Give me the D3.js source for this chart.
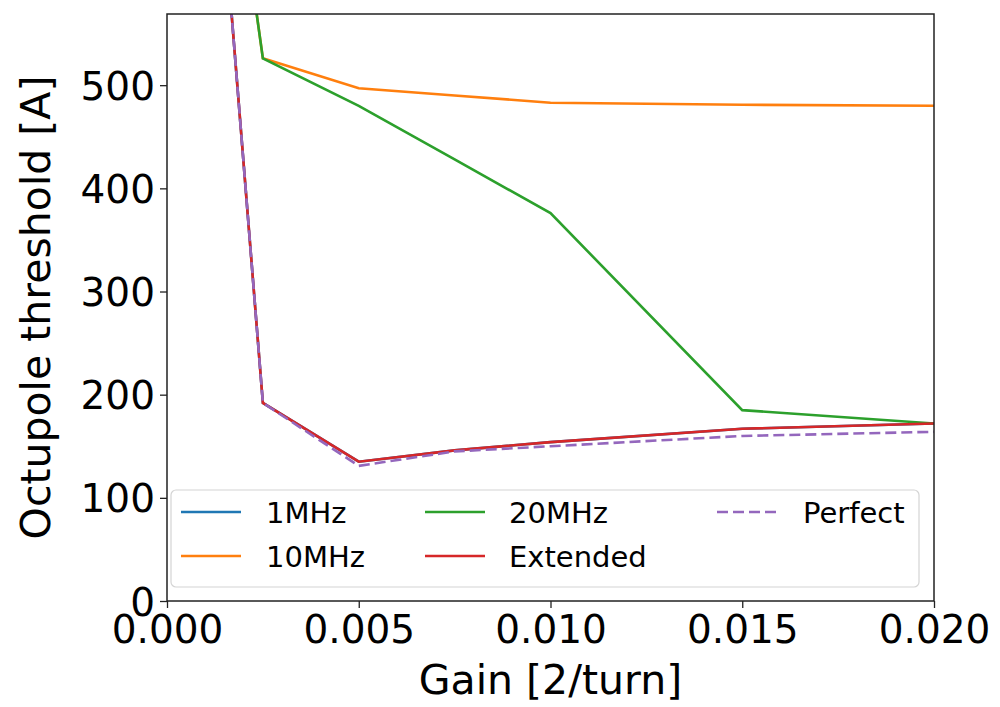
<!DOCTYPE html>
<html>
<head>
<meta charset="utf-8">
<script src="https://cdn.jsdelivr.net/npm/d3@7"></script>
<style>
  body { margin: 0; background: #fff; }
  text { font-family: "DejaVu Sans", sans-serif; }
</style>
</head>
<body>
<div id="chart"></div>
<script>
// data
var gains = [0.001, 0.0025, 0.005, 0.0075, 0.01, 0.015, 0.02];
var mhz1 = [885, 192, 135, 146, 154, 167, 172];
var mhz10 = [925, 526, 497, 490, 483, 481, 480];
var mhz20 = [925, 526, 480, 428, 376, 185, 172];
var extended = [885, 192, 135, 146, 154, 167, 172];
var perfect = [885, 192, 131, 145, 150, 160, 164];

var seriesNames = ["1MHz", "10MHz", "20MHz", "Extended", "Perfect"];
var seriesColors = ["#1f77b4", "#ff7f0e", "#2ca02c", "#d62728", "#9467bd"];
var seriesValues = [mhz1, mhz10, mhz20, extended, perfect];
var seriesDash = [null, null, null, null, "11,5"];

var xTicks = [0, 0.005, 0.01, 0.015, 0.02];
var yTicks = [0, 100, 200, 300, 400, 500];

var draw_chart = function() {

    // set up the svg
    var w = 1000, h = 707;
    var pLeft = 167, pRight = 934, pTop = 14, pBottom = 601;

    var svg = d3.select("#chart")
        .append("svg")
        .attr("width", w)
        .attr("height", h);

    var x = d3.scaleLinear().domain([0, 0.02]).range([pLeft, pRight]);
    var y = d3.scaleLinear().domain([0, 569]).range([pBottom, pTop]);

    svg.append("clipPath")
        .attr("id", "plotclip")
        .append("rect")
        .attr("x", pLeft)
        .attr("y", pTop)
        .attr("width", pRight - pLeft)
        .attr("height", pBottom - pTop);

    // lines
    var line = d3.line()
        .x(function(d) { return x(d[0]); })
        .y(function(d) { return y(d[1]); });

    var plot = svg.append("g").attr("clip-path", "url(#plotclip)");
    for ( var i = 0; i < seriesValues.length; i++ ) {
        var vals = seriesValues[i];
        var pts = gains.map(function(g, j) { return [g, vals[j]]; });
        plot.append("path")
            .datum(pts)
            .attr("d", line)
            .attr("fill", "none")
            .attr("stroke", seriesColors[i])
            .attr("stroke-width", 2.6)
            .attr("stroke-dasharray", seriesDash[i]);
    }

    // axes
    var xAxis = svg.append("g")
        .attr("transform", "translate(0," + pBottom + ")")
        .call(d3.axisBottom(x).tickValues(xTicks).tickFormat(d3.format(".3f")).tickSizeOuter(0).tickSize(7).tickPadding(4));
    var yAxis = svg.append("g")
        .attr("transform", "translate(" + pLeft + ",0)")
        .call(d3.axisLeft(y).tickValues(yTicks).tickSizeOuter(0).tickSize(7).tickPadding(5));

    [xAxis, yAxis].forEach(function(a) {
        a.select(".domain").remove();
        a.selectAll(".tick line").attr("stroke", "#222").attr("stroke-width", 1.3);
        a.selectAll(".tick text").attr("fill", "#000").attr("font-size", "39px")
            .attr("font-family", "DejaVu Sans");
    });
    xAxis.selectAll(".tick text").attr("dy", "0.8em");
    yAxis.selectAll(".tick text").attr("dy", "0.36em");

    // frame
    svg.append("rect")
        .attr("x", pLeft)
        .attr("y", pTop)
        .attr("width", pRight - pLeft)
        .attr("height", pBottom - pTop)
        .attr("fill", "none")
        .attr("stroke", "#222")
        .attr("stroke-width", 1.5);

    // axis labels
    svg.append("text")
        .attr("x", (pLeft + pRight) / 2)
        .attr("y", 694)
        .attr("text-anchor", "middle")
        .attr("font-size", "41px")
        .text("Gain [2/turn]");

    svg.append("text")
        .attr("transform", "translate(50," + ((pTop + pBottom) / 2) + ") rotate(-90)")
        .attr("text-anchor", "middle")
        .attr("font-size", "41px")
        .text("Octupole threshold [A]");

    // legend
    var leg = svg.append("g");
    leg.append("rect")
        .attr("x", 171)
        .attr("y", 490)
        .attr("width", 748)
        .attr("height", 97)
        .attr("rx", 5)
        .attr("fill", "#fff")
        .attr("fill-opacity", 0.8)
        .attr("stroke", "#d4d4d4")
        .attr("stroke-width", 1.2);

    var colX = [181, 425, 717];
    var textX = [266, 509, 803];
    var rowY = [512, 556];
    // matplotlib fills columns top to bottom
    var legendOrder = [[0, 0], [0, 1], [1, 0], [1, 1], [2, 0]];
    for ( var k = 0; k < seriesNames.length; k++ ) {
        var c = legendOrder[k][0], r = legendOrder[k][1];
        leg.append("line")
            .attr("x1", colX[c])
            .attr("x2", colX[c] + 60)
            .attr("y1", rowY[r])
            .attr("y2", rowY[r])
            .attr("stroke", seriesColors[k])
            .attr("stroke-width", 2.6)
            .attr("stroke-dasharray", seriesDash[k]);
        leg.append("text")
            .attr("x", textX[c])
            .attr("y", rowY[r] + 11)
            .attr("font-size", "29px")
            .attr("fill", "#000")
            .text(seriesNames[k]);
    }
}

draw_chart();
</script>
</body>
</html>
